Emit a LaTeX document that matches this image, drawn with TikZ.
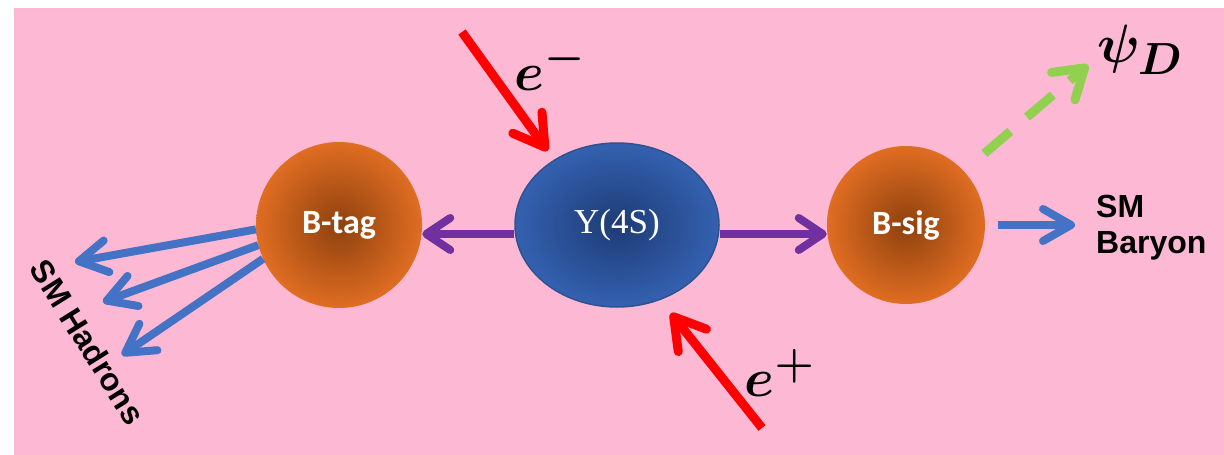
\documentclass[tikz,border=0pt]{standalone}
\usepackage{amsmath,amssymb}
\usepackage{fontspec}
\usepackage{tikz}
\usetikzlibrary{shapes.geometric,arrows.meta,positioning}
\newfontfamily\calibfont{Carlito}
\newfontfamily\arialfont{Liberation Sans}
\newfontfamily\cambfont{Liberation Serif}
\newcommand{\bigmath}[1]{\scalebox{2.17}{\Huge$\boldsymbol{#1}$}}
\definecolor{cBack}{HTML}{FDB9D4}
\definecolor{cMeson}{HTML}{E06D22}
\definecolor{cMesonIn}{HTML}{8E410E}
\definecolor{cUps}{HTML}{3461B0}
\definecolor{cUpsIn}{HTML}{1E3B75}
\definecolor{cUpsLine}{HTML}{2F528F}
\definecolor{cBeam}{HTML}{FF0000}
\definecolor{cDecay}{HTML}{7030A0}
\definecolor{cSM}{HTML}{4472C4}
\definecolor{cDark}{HTML}{92D050}
\tikzset{
  node distance=92pt,
  meson/.style  ={circle, inner color=cMesonIn, outer color=cMeson, text=white,
                  font=\calibfont\bfseries\fontsize{34}{40}\selectfont},
  res/.style    ={ellipse, draw=cUpsLine, line width=1.5pt, inner color=cUpsIn,
                  outer color=cUps, text=white, minimum width=204pt, minimum height=164pt,
                  font=\cambfont\fontsize{35}{40}\selectfont},
  mlbl/.style   ={inner sep=0pt},
  slbl/.style   ={font=\arialfont\bfseries\fontsize{32}{36}\selectfont, align=left, inner sep=0pt},
  beam/.style   ={draw=cBeam, line width=9pt, -{Straight Barb[length=30pt,width=36pt,round]}},
  decay/.style  ={draw=cDecay, line width=8pt, -{Straight Barb[length=24pt,width=32pt,round]}},
  smfl/.style   ={draw=cSM, line width=8pt, -{Straight Barb[length=28pt,width=32pt,round]}},
  dark/.style   ={draw=cDark, line width=9pt, dash pattern=on 34pt off 22pt,
                  -{Straight Barb[length=28pt,width=36pt,round]}},
}
\begin{document}
\begin{tikzpicture}[x=1pt,y=-1pt]
  \useasboundingbox (0,0) rectangle (1224,455);
  \fill[cBack] (14,8) rectangle (1224,455);
  % mesons
  \node[res] (ups) at (617,225) {Y(4S)};
  \node[meson,minimum size=166pt,left=of ups] (btag) {B-tag};
  \node[meson,minimum size=158pt,right=107pt of ups] (bsig) {B-sig};
  % labels
  \node[mlbl] (em) at (550,66) {\bigmath{e^{-}}};
  \node[mlbl] (ep) at (780,373) {\bigmath{e^{+}}};
  \node[mlbl] (psi) at (1140,50) {\bigmath{\psi_{D}}};
  \node[slbl,anchor=west] (baryon) at (1096,228) {SM\\Baryon};
  \node[slbl,rotate=-58] (hadrons) at (88,342) {SM Hadrons};
  \coordinate (emsrc) at (462,32);
  \coordinate (epsrc) at (762,428);
  \coordinate (psitip) at (1088,65);
  \coordinate (h1) at (75,262);
  \coordinate (h2) at (103,302);
  \coordinate (h3) at (122,355);
  % arrows
  \draw[beam,shorten >=11pt] (emsrc) -- (ups.134);
  \draw[beam,shorten >=17pt] (epsrc) -- (ups.-60);
  \draw[decay] ([yshift=-9pt]ups.west) -- ([yshift=-9pt]btag.east);
  \draw[decay] ([yshift=-9pt]ups.east) -- ([yshift=-9pt]bsig.west);
  \draw[dark,shorten <=27pt] (bsig.43) -- (psitip);
  \draw[smfl,shorten <=13pt,shorten >=21pt] (bsig.east) -- (bsig.east -| baryon.west);
  \foreach \a/\t in {183/h1,194/h2,204/h3}
    \draw[smfl] (btag.\a) -- (\t);
\end{tikzpicture}
\end{document}
